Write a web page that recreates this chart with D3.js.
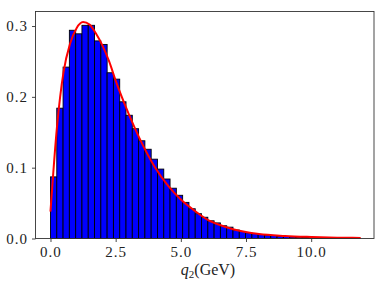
<!DOCTYPE html>
<html>
<head>
<meta charset="utf-8">
<script src="https://cdn.jsdelivr.net/npm/d3@7"></script>
<style>
  body { margin: 0; background: #fff; }
  text { font-family: "Liberation Serif", serif; }
</style>
</head>
<body>
<svg id="chart" width="387" height="290"></svg>
<script>
// histogram (density), bins start at 0
const binWidth = 0.2414;
const binHeights = [
  0.087, 0.184, 0.242, 0.294, 0.289, 0.301, 0.301, 0.279, 0.274, 0.234,
  0.225, 0.193, 0.174, 0.155, 0.138, 0.126, 0.112, 0.098, 0.084, 0.071,
  0.061, 0.051, 0.042, 0.035, 0.030, 0.025, 0.022, 0.018, 0.016, 0.012,
  0.010, 0.008, 0.007, 0.0057, 0.0047, 0.0042, 0.0033, 0.0028, 0.0022, 0.0018,
  0.0015, 0.0012, 0.0010, 0.0008, 0.0006, 0.0005, 0.0004, 0.0003, 0.0002
];

// fitted curve
const fitX = [0, 0.25, 0.5, 0.75, 1.0, 1.25, 1.5, 1.75, 2.0, 2.25, 2.5, 3.0, 3.5, 4.0, 4.5,
  5.0, 5.5, 6.0, 6.5, 7.0, 8.0, 9.0, 10.0, 11.0, 11.9];
const fitY = [0.038, 0.158, 0.235, 0.275, 0.297, 0.3055, 0.302, 0.289, 0.272, 0.250, 0.223,
  0.176, 0.135, 0.101, 0.075, 0.055, 0.040, 0.027, 0.019, 0.013, 0.0062, 0.0036, 0.0022, 0.0012, 0.0008];

const xTicks = [0, 2.5, 5, 7.5, 10];
const yTicks = [0, 0.1, 0.2, 0.3];

const mLeft = 35.5, mRight = 374, mTop = 11.5, mBottom = 238.5;

const x = d3.scaleLinear().domain([-0.575, 12.41]).range([mLeft, mRight]);
const y = d3.scaleLinear().domain([0, 0.3205]).range([mBottom, mTop]);

const svg = d3.select("#chart");

// bars
svg.append("g")
  .selectAll("rect")
  .data(binHeights)
  .enter()
  .append("rect")
  .attr("x", (d, i) => x(i * binWidth))
  .attr("y", d => y(d))
  .attr("width", x(binWidth) - x(0))
  .attr("height", d => y(0) - y(d))
  .attr("fill", "#0000ff")
  .attr("stroke", "#000")
  .attr("stroke-width", 0.9);

// fit line
const line = d3.line()
  .x((d, i) => x(fitX[i]))
  .y(d => y(d))
  .curve(d3.curveMonotoneX);

svg.append("path")
  .datum(fitY)
  .attr("d", line)
  .attr("fill", "none")
  .attr("stroke", "#ff0000")
  .attr("stroke-width", 2);

// frame
svg.append("rect")
  .attr("x", mLeft).attr("y", mTop)
  .attr("width", mRight - mLeft).attr("height", mBottom - mTop)
  .attr("fill", "none")
  .attr("stroke", "#333")
  .attr("stroke-width", 0.9);

// axes
const xAxis = d3.axisBottom(x)
  .tickValues(xTicks)
  .tickFormat(d3.format(".1f"))
  .tickSize(3.5)
  .tickPadding(4);

const yAxis = d3.axisLeft(y)
  .tickValues(yTicks)
  .tickFormat(d3.format(".1f"))
  .tickSize(3.5)
  .tickPadding(4);

const gx = svg.append("g")
  .attr("transform", `translate(0, ${mBottom})`)
  .call(xAxis);

const gy = svg.append("g")
  .attr("transform", `translate(${mLeft}, 0)`)
  .call(yAxis);

[gx, gy].forEach(g => {
  g.select(".domain").remove();
  g.selectAll(".tick line").attr("stroke", "#333").attr("stroke-width", 0.9);
  g.selectAll(".tick text")
    .attr("fill", "#222")
    .style("font-family", "'Liberation Serif', serif")
    .style("font-size", "15px")
    .style("letter-spacing", "1px");
});

// x label
const label = svg.append("text")
  .attr("x", 208)
  .attr("y", 275)
  .attr("text-anchor", "middle")
  .attr("fill", "#222")
  .style("font-size", "16px");
label.append("tspan").style("font-style", "italic").text("q");
label.append("tspan").attr("dy", 3).style("font-size", "11px").text("2");
label.append("tspan").attr("dy", -3).text("(GeV)");
</script>
</body>
</html>
